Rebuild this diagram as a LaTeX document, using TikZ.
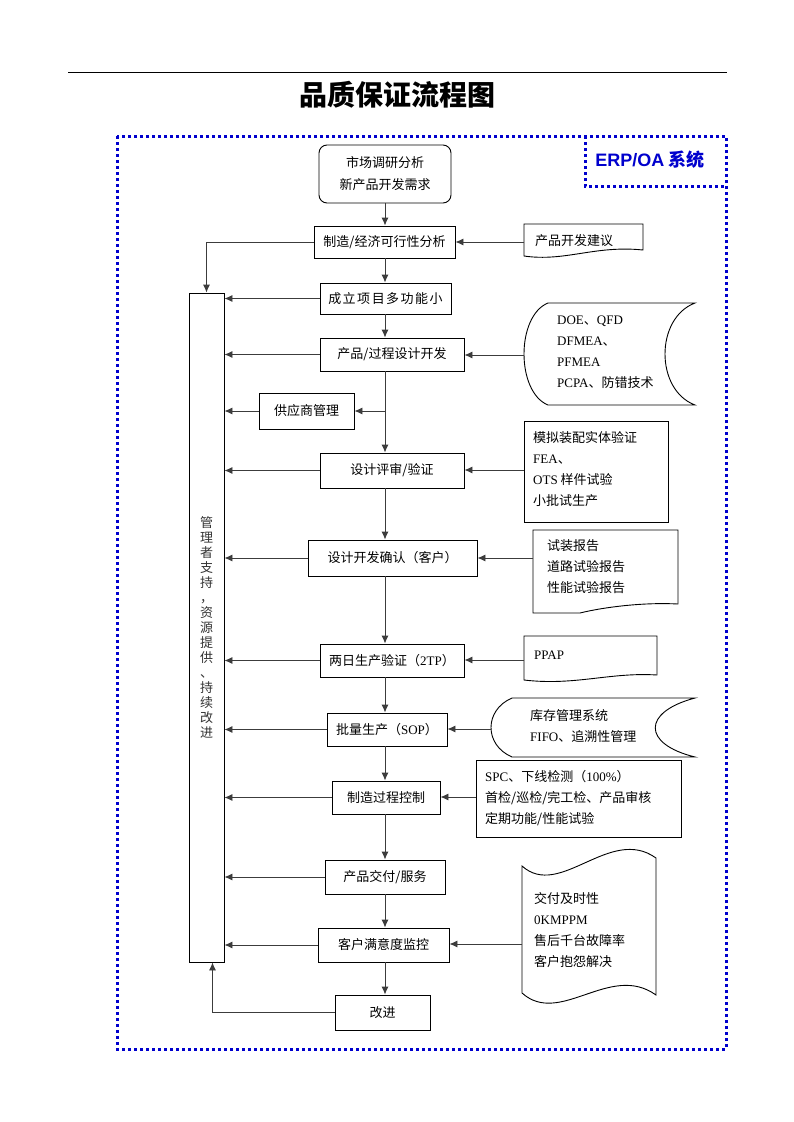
\documentclass[tikz,border=0pt]{standalone}
\usepackage{fontspec}
\setmainfont{Noto Sans CJK SC}
\newfontfamily\lat{Liberation Serif}
\newfontfamily\ars{Liberation Sans}
\usetikzlibrary{arrows.meta}
\definecolor{dotblue}{RGB}{0,0,205}
\definecolor{lin}{RGB}{60,60,60}
\begin{document}
\begin{tikzpicture}[x=1pt,y=-1pt,
  box/.style={draw=black, line width=0.9pt, inner sep=0pt, align=center, font=\fontsize{13}{16}\selectfont},
  shp/.style={draw=black, line width=0.9pt},
  arr/.style={draw=lin, line width=0.9pt, -{Latex[length=8pt,width=7pt]}},
  side/.style={inner sep=0pt, align=left, anchor=west, font=\fontsize{13}{21}\selectfont},
  dotb/.style={draw=dotblue, line width=3pt, dash pattern=on 3pt off 3pt}
]
\useasboundingbox (0,0) rectangle (793,1122);
\fill[white] (0,0) rectangle (793,1122);
% header
\draw[line width=0.8pt] (68,72) -- (727,72);
\node[font=\fontsize{28}{28}\selectfont\bfseries] (title) at (397,95) {品质保证流程图};
% outer dotted frame
\draw[dotb] (117,136) rectangle (726,1049);
\draw[dotb] (585,136) -- (585,186) -- (726,186);
\node[text=dotblue, font=\fontsize{18}{18}\selectfont\bfseries] (erp) at (650,160) {{\ars ERP/OA} 系统};

\coordinate (mx) at (385,0);

% main column
\node[box, rounded corners=8pt, minimum width=132pt, minimum height=58pt, font=\fontsize{13}{22}\selectfont] (n0) at (385,174) {市场调研分析\\新产品开发需求};
\node[box, minimum width=141pt, minimum height=32pt] (n1) at (384.5,242) {制造/经济可行性分析};
\node[box, minimum width=131pt, minimum height=31pt] (n2) at (385.5,298.5) {成\hspace{1.5pt}立\hspace{1.5pt}项\hspace{1.5pt}目\hspace{1.5pt}多\hspace{1.5pt}功\hspace{1.5pt}能\hspace{1.5pt}小};
\node[box, minimum width=144pt, minimum height=33pt] (n3) at (392,354.5) {产品/过程设计开发};
\node[box, minimum width=95pt, minimum height=36pt] (sup) at (306.5,411) {供应商管理};
\node[box, minimum width=144pt, minimum height=35pt] (n4) at (392,470.5) {设计评审/验证};
\node[box, minimum width=169pt, minimum height=36pt] (n5) at (392.5,558) {设计开发确认（客户）};
\node[box, minimum width=144pt, minimum height=33pt] (n6) at (392,660.5) {两日生产验证（{\lat 2TP}）};
\node[box, minimum width=120pt, minimum height=33pt] (n7) at (387,729.5) {批量生产（{\lat SOP}）};
\node[box, minimum width=108pt, minimum height=33pt] (n8) at (386,797.5) {制造过程控制};
\node[box, minimum width=120pt, minimum height=34pt] (n9) at (385,877) {产品交付/服务};
\node[box, minimum width=131pt, minimum height=34pt] (n10) at (383.5,945) {客户满意度监控};
\node[box, minimum width=95pt, minimum height=35pt] (n11) at (382.5,1012.5) {改进};

% left column
\node[box, minimum width=35pt, minimum height=669pt, text=black!80, font=\fontsize{13}{15}\selectfont] (col) at (206.5,627.5) {管\\理\\者\\支\\持\\，\\资\\源\\提\\供\\、\\持\\续\\改\\进};

% side shapes
% s1 document
\draw[shp] (524,224) -- (643,224) -- (643,250) .. controls (595,245) and (565,262) .. (524,256) -- cycle;
\node[side] (t1) at (535,241) {产品开发建议};
\coordinate (s1) at (524,242);
% s2 stored data
\draw[shp] (548,303) -- (695,303) .. controls (655,318) and (655,390) .. (695,405) -- (548,405) .. controls (516,392) and (516,316) .. cycle;
\node[side] (t2) at (557,352) {{\lat DOE}、{\lat QFD}\\{\lat DFMEA}、\\{\lat PFMEA}\\{\lat PCPA}、防错技术};
\coordinate (s2) at (524,355);
% s3 box
\draw[shp] (524,421) rectangle (668,522);
\node[side] (t3) at (533,469) {模拟装配实体验证\\{\lat FEA}、\\{\lat OTS} 样件试验\\小批试生产};
\coordinate (s3) at (524,470);
% s4 document
\draw[shp] (533,530) -- (678,530) -- (678,604) .. controls (640,602) and (600,608) .. (580,613) -- (533,613) -- cycle;
\node[side] (t4) at (547,567) {试装报告\\道路试验报告\\性能试验报告};
\coordinate (s4) at (533,558);
% s5 document
\draw[shp] (524,636) -- (657,636) -- (657,675) .. controls (610,672) and (575,686) .. (524,680) -- cycle;
\node[side] (t5) at (534,655) {{\lat PPAP}};
\coordinate (s5) at (524,660);
% s6 stored data
\draw[shp] (512,698) -- (695,698) .. controls (642,712) and (642,744) .. (695,757) -- (512,757) .. controls (484,745) and (484,710) .. cycle;
\node[side] (t6) at (530,726) {库存管理系统\\{\lat FIFO}、追溯性管理};
\coordinate (s6) at (491,729);
% s7 box
\draw[shp] (476,760) rectangle (681,837);
\node[side] (t7) at (485,798) {{\lat SPC}、下线检测（{\lat 100\%}）\\首检/巡检/完工检、产品审核\\定期功能/性能试验};
\coordinate (s7) at (476,797);
% s8 punched tape
\draw[shp] (522,866) .. controls (560,900) and (610,825) .. (656,858) -- (656,995) .. controls (610,962) and (560,1027) .. (522,993) -- cycle;
\node[side] (t8) at (534,930) {交付及时性\\{\lat 0KMPPM}\\售后千台故障率\\客户抱怨解决};
\coordinate (s8) at (522,944);

% vertical flow
\draw[arr] (n0.south) -- (n0.south |- n1.north);
\draw[arr] (mx |- n1.south) -- (mx |- n2.north);
\draw[arr] (mx |- n2.south) -- (mx |- n3.north);
\draw[arr] (mx |- n3.south) -- (mx |- n4.north);
\draw[arr] (mx |- sup.east) -- (sup.east);
\draw[arr] (mx |- n4.south) -- (mx |- n5.north);
\draw[arr] (mx |- n5.south) -- (mx |- n6.north);
\draw[arr] (mx |- n6.south) -- (mx |- n7.north);
\draw[arr] (mx |- n7.south) -- (mx |- n8.north);
\draw[arr] (mx |- n8.south) -- (mx |- n9.north);
\draw[arr] (mx |- n9.south) -- (mx |- n10.north);
\draw[arr] (mx |- n10.south) -- (mx |- n11.north);

% to left column
\draw[arr] (n1.west) -| (col.north);
\draw[arr] (n2.west) -- (n2.west -| col.east);
\draw[arr] (n3.west) -- (n3.west -| col.east);
\draw[arr] (sup.west) -- (sup.west -| col.east);
\draw[arr] (n4.west) -- (n4.west -| col.east);
\draw[arr] (n5.west) -- (n5.west -| col.east);
\draw[arr] (n6.west) -- (n6.west -| col.east);
\draw[arr] (n7.west) -- (n7.west -| col.east);
\draw[arr] (n8.west) -- (n8.west -| col.east);
\draw[arr] (n9.west) -- (n9.west -| col.east);
\draw[arr] (n10.west) -- (n10.west -| col.east);
\draw[arr] (n11.west) -| ([xshift=6pt]col.south);

% side inputs
\draw[arr] (s1) -- (s1 -| n1.east);
\draw[arr] (s2) -- (s2 -| n3.east);
\draw[arr] (s3) -- (s3 -| n4.east);
\draw[arr] (s4) -- (s4 -| n5.east);
\draw[arr] (s5) -- (s5 -| n6.east);
\draw[arr] (s6) -- (s6 -| n7.east);
\draw[arr] (s7) -- (s7 -| n8.east);
\draw[arr] (s8) -- (s8 -| n10.east);
\end{tikzpicture}
\end{document}
